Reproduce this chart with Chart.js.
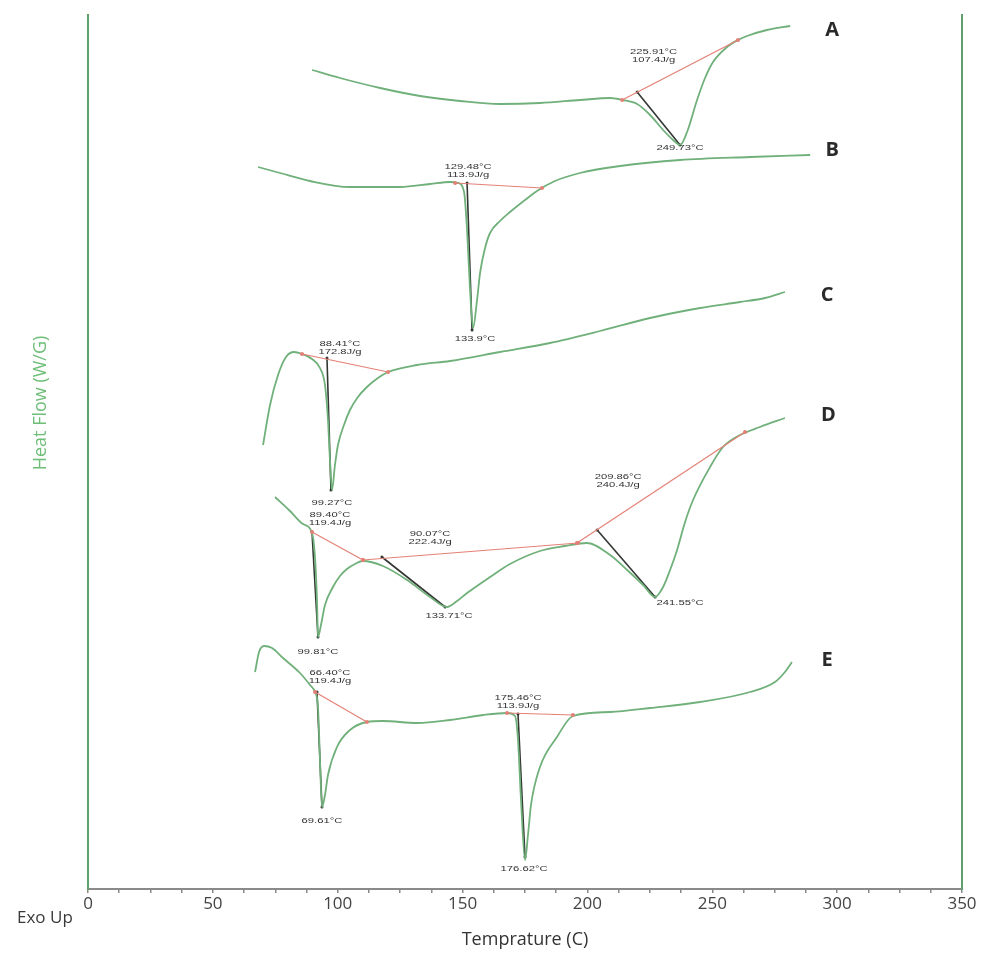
<!DOCTYPE html>
<html>
<head>
<meta charset="utf-8">
<title>DSC thermograms A-E</title>
<script src="https://cdn.jsdelivr.net/npm/chart.js@4.4.1/dist/chart.umd.min.js"></script>
<style>
    html, body { margin: 0; padding: 0; background: #fff; }
    #wrap { width: 1000px; height: 958px; position: relative; }
</style>
</head>
<body>
<div id="wrap"><canvas id="dscChart"></canvas></div>
<script>
// Temperatures (C) and heat flow (arbitrary offset units, exo up)
const tempA = [89.7, 100.9, 117.0, 133.0, 149.0, 165.0, 181.0, 197.0, 209.1, 213.9, 219.9, 225.1, 230.3, 234.3, 237.1, 239.9, 243.9, 247.1, 250.3, 255.9, 260.3, 263.9, 271.9, 281.2];
const flowA = [819, 811, 801, 793, 788, 785, 786, 789, 791, 789, 785, 774, 759, 749, 744, 757, 789, 811, 827, 842, 849, 853, 859, 863];

const tempB = [68.1, 76.9, 88.9, 104.9, 125.0, 137.0, 145.0, 148.2, 150.6, 151.8, 153.0, 154.2, 155.8, 157.0, 159.0, 161.0, 165.0, 169.0, 175.0, 179.8, 187.0, 197.0, 213.1, 237.1, 265.1, 289.2];
const flowB = [722, 716, 708, 702, 702, 705, 707, 706, 697, 659, 599, 561, 589, 616, 641, 656, 668, 677, 689, 698, 708, 716, 723, 729, 732, 734];

const tempC = [70.1, 72.9, 76.1, 79.3, 82.5, 85.7, 89.7, 92.9, 94.9, 96.1, 96.9, 97.7, 98.9, 100.1, 102.5, 104.9, 108.1, 111.7, 116.1, 120.2, 131.8, 145.0, 165.0, 185.0, 205.1, 225.1, 245.1, 261.1, 271.1, 279.1];
const flowC = [444, 484, 514, 532, 537, 535, 530, 521, 504, 469, 429, 399, 424, 444, 464, 479, 492, 502, 511, 517, 524, 528, 537, 546, 558, 571, 581, 587, 591, 597];

const tempD = [74.9, 80.9, 86.1, 89.7, 90.9, 91.7, 92.1, 93.3, 94.9, 98.1, 100.9, 103.7, 106.9, 110.1, 118.1, 127.8, 137.0, 143.8, 147.8, 151.8, 161.0, 169.0, 181.0, 191.0, 199.8, 209.1, 215.9, 222.3, 227.1, 230.3, 233.1, 235.9, 239.1, 242.3, 249.1, 254.3, 261.1, 269.1, 279.1];
const flowD = [392, 378, 365, 356, 332, 289, 252, 264, 284, 302, 313, 320, 325, 328, 323, 309, 292, 282, 288, 296, 312, 325, 338, 343, 346, 334, 319, 304, 292, 302, 319, 339, 367, 389, 422, 442, 454, 462, 471];

const tempE = [66.9, 68.5, 70.5, 73.7, 78.1, 84.9, 88.9, 90.9, 92.1, 92.9, 93.7, 94.9, 96.1, 99.7, 104.9, 111.7, 118.1, 131.8, 145.0, 158.2, 167.8, 171.0, 172.2, 173.4, 175.0, 176.2, 177.4, 181.0, 187.8, 194.2, 209.1, 225.1, 245.1, 265.1, 275.1, 279.1, 281.9];
const flowE = [217, 237, 243, 241, 231, 216, 204, 197, 182, 129, 82, 94, 114, 142, 159, 167, 168, 166, 169, 174, 176, 173, 149, 89, 29, 54, 84, 122, 152, 173, 177, 181, 187, 197, 207, 217, 227];

// Integration baselines (red) and onset tangents (black): [t1, f1, t2, f2]
const baselines = [
    [213.9, 789, 260.3, 849],
    [147.0, 706, 181.8, 701],
    [85.7, 535, 120.2, 517],
    [89.7, 357, 110.1, 329],
    [110.1, 329, 196.2, 346],
    [195.8, 346, 263.1, 457],
    [90.9, 197, 111.7, 167],
    [167.8, 176, 194.2, 174]
];
const tangents = [
    [219.9, 797, 237.1, 744],
    [151.8, 706, 153.8, 559],
    [95.7, 531, 97.3, 399],
    [89.7, 357, 92.1, 252],
    [117.7, 332, 143.0, 282],
    [203.9, 359, 227.1, 292],
    [91.7, 197, 93.7, 82],
    [172.2, 175, 175.0, 32]
];

// Peak annotations: position (temp, flow) and text lines
const noteTemp = [226.5, 237.1, 152.2, 155.0, 100.9, 97.7, 96.9, 92.1, 137.0, 144.6, 212.3, 237.1, 96.9, 93.7, 172.2, 174.6];
const noteFlow = [833, 741, 718, 550, 541, 386, 370, 237, 351, 273, 408, 286, 212, 68, 187, 20];
const noteText = [
    ['225.91°C', '107.4J/g'], ['249.73°C'],
    ['129.48°C', '113.9J/g'], ['133.9°C'],
    ['88.41°C', '172.8J/g'], ['99.27°C'],
    ['89.40°C', '119.4J/g'], ['99.81°C'],
    ['90.07°C', '222.4J/g'], ['133.71°C'],
    ['209.86°C', '240.4J/g'], ['241.55°C'],
    ['66.40°C', '119.4J/g'], ['69.61°C'],
    ['175.46°C', '113.9J/g'], ['176.62°C']
];

const curveNames = ['A', 'B', 'C', 'D', 'E'];
const nameTemp = [298.0, 298.0, 296.0, 296.5, 296.0];
const nameFlow = [859, 739, 594, 474, 229];

const xTicks = [0, 50, 100, 150, 200, 250, 300, 350];

const GREEN = 'rgb(112, 176, 122)';
const AXIS_GREEN = 'rgb(96, 160, 110)';

function toPoints(temps, flows) {
    return temps.map((t, i) => ({ x: t, y: flows[i] }));
}

function segmentDataset(seg, color, width, radius) {
    return {
        data: [{ x: seg[0], y: seg[1] }, { x: seg[2], y: seg[3] }],
        borderColor: color,
        backgroundColor: color,
        borderWidth: width,
        pointRadius: radius,
        pointBorderWidth: 0,
        tension: 0
    };
}

const curves = [
    toPoints(tempA, flowA),
    toPoints(tempB, flowB),
    toPoints(tempC, flowC),
    toPoints(tempD, flowD),
    toPoints(tempE, flowE)
];

const datasets = [];
baselines.forEach(s => datasets.push(segmentDataset(s, 'rgb(228, 128, 118)', 1.2, 2)));
curves.forEach(pts => datasets.push({
    data: pts,
    borderColor: GREEN,
    borderWidth: 1.8,
    pointRadius: 0,
    cubicInterpolationMode: 'monotone'
}));
tangents.forEach(s => datasets.push(segmentDataset(s, 'rgb(50, 55, 50)', 1.6, 1.5)));

// Draws the small peak notes, curve letters, y title and the "Exo Up" tag
const notesPlugin = {
    id: 'notes',
    afterDatasetsDraw(chart) {
        const { ctx, scales } = chart;
        const xs = scales.x, ys = scales.y;
        ctx.save();
        ctx.fillStyle = '#333';
        ctx.textAlign = 'center';
        ctx.textBaseline = 'middle';
        ctx.font = '7.5px "Liberation Sans", Arial, sans-serif';
        noteText.forEach((lines, i) => {
            const px = xs.getPixelForValue(noteTemp[i]);
            const py = ys.getPixelForValue(noteFlow[i]);
            const top = py - (lines.length - 1) * 3.8;
            lines.forEach((line, j) => {
                ctx.save();
                ctx.translate(px, top + j * 7.6);
                ctx.scale(1.5, 1);
                ctx.fillText(line, 0, 0);
                ctx.restore();
            });
        });

        ctx.fillStyle = '#2a2a2a';
        ctx.font = 'bold 20px "Open Sans", sans-serif';
        curveNames.forEach((name, i) => {
            ctx.fillText(name, xs.getPixelForValue(nameTemp[i]), ys.getPixelForValue(nameFlow[i]));
        });

        ctx.save();
        ctx.translate(41, 403);
        ctx.rotate(-Math.PI / 2);
        ctx.fillStyle = 'rgb(110, 190, 120)';
        ctx.font = '18px "Open Sans", sans-serif';
        ctx.fillText('Heat Flow (W/G)', 0, 0);
        ctx.restore();

        ctx.fillStyle = '#3a3a3a';
        ctx.textAlign = 'left';
        ctx.font = '17px "Open Sans", sans-serif';
        ctx.fillText('Exo Up', 17, 918);
        ctx.restore();
    }
};

new Chart(document.getElementById('dscChart'), {
    type: 'line',
    data: { datasets: datasets },
    options: {
        responsive: true,
        maintainAspectRatio: false,
        animation: false,
        layout: { padding: { top: 15, left: 0, right: 0, bottom: 0 } },
        plugins: {
            legend: { display: false },
            tooltip: { enabled: false },
            title: { display: false }
        },
        scales: {
            x: {
                type: 'linear',
                min: 0,
                max: 350,
                afterFit: scale => { scale.height = 69; },
                afterBuildTicks: scale => {
                    const ticks = [];
                    for (let v = 0; v <= 350; v += 12.5) ticks.push({ value: v });
                    scale.ticks = ticks;
                },
                ticks: {
                    autoSkip: false,
                    maxRotation: 0,
                    padding: 1,
                    color: '#444',
                    font: { family: '"Open Sans", sans-serif', size: 17 },
                    callback: v => (xTicks.includes(v) ? String(v) : '')
                },
                grid: {
                    drawOnChartArea: false,
                    drawTicks: true,
                    tickLength: 4,
                    color: '#888',
                    lineWidth: 1.5
                },
                border: { color: '#8a8a8a', width: 2 },
                title: {
                    display: true,
                    text: 'Temprature (C)',
                    color: '#333',
                    font: { family: '"Open Sans", sans-serif', size: 18 },
                    padding: { top: 0, bottom: 7 }
                }
            },
            y: {
                type: 'linear',
                min: 0,
                max: 874,
                afterFit: scale => { scale.width = 88; },
                ticks: { display: false },
                grid: { display: false },
                border: { color: AXIS_GREEN, width: 2 }
            },
            y2: {
                type: 'linear',
                position: 'right',
                min: 0,
                max: 874,
                afterFit: scale => { scale.width = 38; },
                ticks: { display: false },
                grid: { display: false },
                border: { color: AXIS_GREEN, width: 2 }
            }
        }
    },
    plugins: [notesPlugin]
});
</script>
</body>
</html>
